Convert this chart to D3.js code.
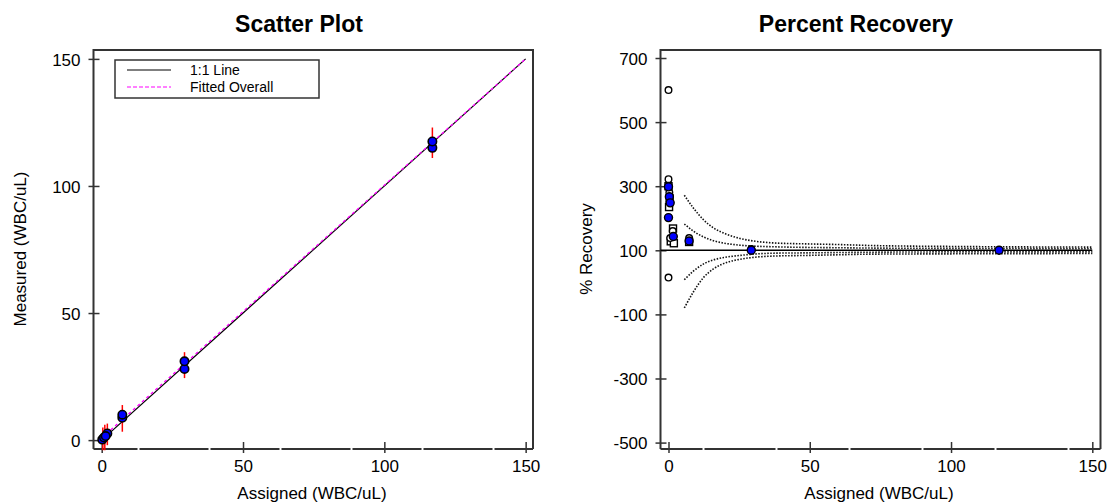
<!DOCTYPE html>
<html>
<head>
<meta charset="utf-8">
<script src="https://cdn.jsdelivr.net/npm/d3@7"></script>
<style>
  body { margin: 0; background: #fff; }
  svg { display: block; font-family: "Liberation Sans", Arial, sans-serif; }
</style>
</head>
<body>
<script>
// Scatter plot : mesures individuelles
const scatterX = [0.2, 0.8, 2.0, 1.4, 7.3, 7.3, 29.3, 29.3, 117, 117];
const scatterY = [0.2, 1.0, 2.6, 1.6, 8.8, 10.0, 28.0, 31.0, 115.0, 117.5];
// Barres d'erreur (rouge)
const errX = [0.4, 1.1, 2.0, 7.3, 29.3, 117];
const errLow = [-4, -4, -2, 3.3, 24.4, 111];
const errHigh = [5, 6, 6.5, 13.8, 34.6, 123];
// Lignes 1:1 et ajustée
const identityX = [0, 150];
const identityY = [0, 150];
const fittedX = [0, 150];
const fittedY = [0.8, 150];

const xTicks = [0, 50, 100, 150];
const yTicksScatter = [0, 50, 100, 150];
const yTicksRecovery = [-500, -300, -100, 100, 300, 500, 700];

// Percent recovery
const openCircleX = [0, 0, 0, 0.3, 1.5, 0.6, 7.3, 29.3, 117];
const openCircleY = [600, 15, 322, 280, 160, 138, 138, 104, 101];
const openSquareX = [0, 0.4, 0.2, 1.6, 0.8, 1.9, 7.3];
const openSquareY = [300, 262, 235, 168, 128, 122, 126];
const meanX = [0, 0.3, 0.6, 0, 1.7, 7.3, 29.3, 117];
const meanY = [298, 267, 248, 202, 143, 129, 100, 100];

// Courbes pointillées (limites)
const bandX = [5.6, 8.8, 12.3, 15.9, 20.6, 25.3, 30.1, 37.2, 48.9, 60, 71.4, 100, 150];
const upperOuter = [272, 232, 196, 170, 150, 137, 129, 123, 120, 118, 115, 112, 110];
const upperInner = [182, 160, 142, 130, 121, 116, 113, 111, 109, 108, 107, 106, 105];
const lowerInner = [8, 35, 57, 70, 79, 84, 88, 91, 92, 93, 94, 95, 95];
const lowerOuter = [-80, -30, 14, 42, 62, 72, 78, 82, 84, 86, 88, 89, 90];
const refLineX = [-2.8, 150];
const refLineY = [100, 100];

const W = 1108, H = 503;
const svg = d3.select("body").append("svg").attr("width", W).attr("height", H);

const axisColor = "#333";

function drawFrame(x, y, yTicks, opts) {
    const [x0, x1] = x.range();
    const [y0, y1] = y.range();
    const g = svg.append("g");

    // Axe Y
    g.append("g")
        .attr("transform", `translate(${x0},0)`)
        .call(d3.axisLeft(y).tickValues(yTicks).tickFormat(d => String(d)).tickSize(5))
        .call(a => a.select(".domain").remove())
        .call(a => a.selectAll(".tick line").attr("x1", -5).attr("x2", 6).attr("stroke", axisColor).attr("stroke-width", 1.5))
        .call(a => a.selectAll(".tick text").attr("x", -13).attr("dy", "0.36em")
            .attr("font-size", 17).attr("fill", "#000").attr("font-family", null));

    // Axe X
    g.append("g")
        .attr("transform", `translate(0,${y0})`)
        .call(d3.axisBottom(x).tickValues(xTicks).tickFormat(d => String(d)).tickSize(4))
        .call(a => a.select(".domain").remove())
        .call(a => a.selectAll(".tick line").attr("y1", -7).attr("y2", 4).attr("stroke", axisColor).attr("stroke-width", 1.5))
        .call(a => a.selectAll(".tick text").attr("y", 11).attr("dy", "0.71em")
            .attr("font-size", 17).attr("fill", "#000").attr("font-family", null));

    // Cadre
    g.append("path")
        .attr("d", `M${x0},${y0}V${y1}H${x1}V${y0}`)
        .attr("fill", "none").attr("stroke", axisColor).attr("stroke-width", 2);
    g.append("line")
        .attr("x1", x0).attr("x2", x1).attr("y1", y0).attr("y2", y0)
        .attr("stroke", axisColor).attr("stroke-width", 2)
        .attr("stroke-dasharray", opts.dash).attr("stroke-dashoffset", opts.offset);

    svg.append("text").attr("x", opts.titleX).attr("y", 32)
        .attr("text-anchor", "middle").attr("font-size", 23).attr("font-weight", "bold")
        .text(opts.title);
    svg.append("text").attr("x", opts.xLabelX).attr("y", 499)
        .attr("text-anchor", "middle").attr("font-size", 17)
        .text("Assigned (WBC/uL)");
    svg.append("text")
        .attr("transform", `translate(${opts.yLabelX},249) rotate(-90)`)
        .attr("text-anchor", "middle").attr("font-size", 17)
        .text(opts.yLabel);
}

// ---------- Scatter Plot ----------
const xL = d3.scaleLinear().domain([-2.9, 152.6]).range([93.5, 533]);
const yL = d3.scaleLinear().domain([-3.5, 153.5]).range([449, 50]);

drawFrame(xL, yL, yTicksScatter, {
    title: "Scatter Plot", titleX: 299, xLabelX: 312, yLabelX: 26,
    yLabel: "Measured (WBC/uL)", dash: "69 2", offset: 25
});

const lineL = d3.line().x(d => xL(d[0])).y(d => yL(d[1]));
svg.append("path").attr("d", lineL(d3.zip(identityX, identityY)))
    .attr("stroke", "#000").attr("stroke-width", 1.2).attr("fill", "none");
svg.append("path").attr("d", lineL(d3.zip(fittedX, fittedY)))
    .attr("stroke", "#ff00ff").attr("stroke-width", 1.3).attr("fill", "none")
    .attr("stroke-dasharray", "3 3");

svg.append("g").selectAll("line").data(d3.range(errX.length)).join("line")
    .attr("x1", i => xL(errX[i])).attr("x2", i => xL(errX[i]))
    .attr("y1", i => yL(errLow[i])).attr("y2", i => yL(errHigh[i]))
    .attr("stroke", "#ff0000").attr("stroke-width", 1.5);

svg.append("g").selectAll("circle").data(d3.range(scatterX.length)).join("circle")
    .attr("cx", i => xL(scatterX[i])).attr("cy", i => yL(scatterY[i]))
    .attr("r", 4.2).attr("fill", "#0000ff").attr("stroke", "#000").attr("stroke-width", 1.6);

// Légende
const leg = svg.append("g");
leg.append("rect").attr("x", 115).attr("y", 60).attr("width", 204).attr("height", 38)
    .attr("fill", "#fff").attr("stroke", axisColor).attr("stroke-width", 1.5);
leg.append("line").attr("x1", 127).attr("x2", 171).attr("y1", 70).attr("y2", 70)
    .attr("stroke", "#000").attr("stroke-width", 1.2);
leg.append("line").attr("x1", 127).attr("x2", 171).attr("y1", 87).attr("y2", 87)
    .attr("stroke", "#ff00ff").attr("stroke-width", 1.2).attr("stroke-dasharray", "4 2");
leg.append("text").attr("x", 190).attr("y", 75).attr("font-size", 14).text("1:1 Line");
leg.append("text").attr("x", 190).attr("y", 92).attr("font-size", 14).text("Fitted Overall");

// ---------- Percent Recovery ----------
const xR = d3.scaleLinear().domain([-2.83, 152.9]).range([660.5, 1100.5]);
const yR = d3.scaleLinear().domain([-520, 725]).range([449, 50]);

drawFrame(xR, yR, yTicksRecovery, {
    title: "Percent Recovery", titleX: 856, xLabelX: 879, yLabelX: 592,
    yLabel: "% Recovery", dash: "71 2", offset: 29
});

const lineR = d3.line().x(d => xR(d[0])).y(d => yR(d[1])).curve(d3.curveMonotoneX);
svg.append("path").attr("d", lineR(d3.zip(refLineX, refLineY)))
    .attr("stroke", "#000").attr("stroke-width", 1.5).attr("fill", "none");

[upperOuter, upperInner, lowerInner, lowerOuter].forEach(s => {
    svg.append("path").attr("d", lineR(d3.zip(bandX, s)))
        .attr("fill", "none").attr("stroke", "#111").attr("stroke-width", 1.6)
        .attr("stroke-dasharray", "1.5 1.5");
});

svg.append("g").selectAll("rect").data(d3.range(openSquareX.length)).join("rect")
    .attr("x", i => xR(openSquareX[i]) - 3.5).attr("y", i => yR(openSquareY[i]) - 3.5)
    .attr("width", 7).attr("height", 7)
    .attr("fill", "#fff").attr("stroke", "#000").attr("stroke-width", 1.4);

svg.append("g").selectAll("circle").data(d3.range(openCircleX.length)).join("circle")
    .attr("cx", i => xR(openCircleX[i])).attr("cy", i => yR(openCircleY[i]))
    .attr("r", 3.3).attr("fill", "#fff").attr("stroke", "#000").attr("stroke-width", 1.4);

svg.append("g").selectAll("circle").data(d3.range(meanX.length)).join("circle")
    .attr("cx", i => xR(meanX[i])).attr("cy", i => yR(meanY[i]))
    .attr("r", 4).attr("fill", "#0000ff").attr("stroke", "#000").attr("stroke-width", 1.4);
</script>
</body>
</html>
